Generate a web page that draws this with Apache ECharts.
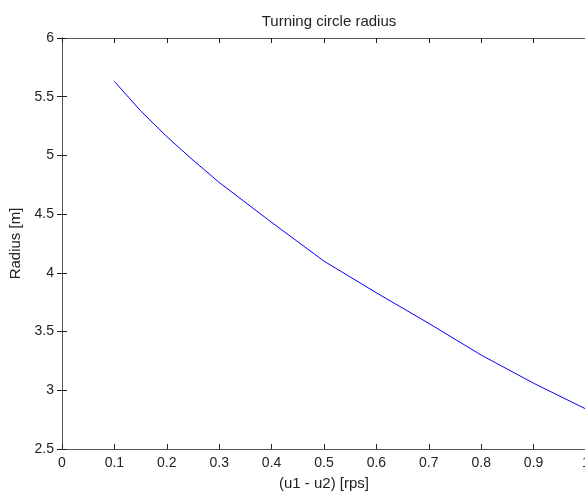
<!DOCTYPE html>
<html>
<head>
<meta charset="utf-8">
<script src="https://cdn.jsdelivr.net/npm/echarts@6/dist/echarts.min.js"></script>
<style>
  html, body { margin: 0; padding: 0; background: #fff; overflow: hidden; }
  #chart { width: 585px; height: 493px; }
</style>
</head>
<body>
<div id="chart"></div>
<script>
// Speed difference between the two propellers [rps]
const speedDiff = [0.1, 0.15, 0.2, 0.25, 0.3, 0.4, 0.5, 0.6, 0.7, 0.8, 0.9, 1.0];
// Resulting turning circle radius [m]
const radius = [5.63, 5.38, 5.16, 4.96, 4.77, 4.43, 4.10, 3.83, 3.57, 3.30, 3.06, 2.84];

const textColor = '#222';
const axisColor = '#555';
const tickColor = '#222';
const fontFamily = 'Liberation Sans, Arial, sans-serif';
const labelSize = 14;
const nameSize = 15;

const chart = echarts.init(document.getElementById('chart'), null, { renderer: 'canvas' });

const line = { show: true, lineStyle: { color: axisColor, width: 1 } };
const tick = { inside: true, length: 5, lineStyle: { color: tickColor, width: 1 } };

chart.setOption({
  animation: false,
  backgroundColor: '#fff',
  title: {
    text: 'Turning circle radius',
    left: 324,
    top: 9,
    textAlign: 'center',
    textStyle: { fontFamily, fontSize: nameSize, fontWeight: 'normal', color: textColor }
  },
  grid: { left: 62, top: 38, width: 524, height: 411, containLabel: false, outerBoundsMode: 'none' },
  xAxis: [
    {
      type: 'value', min: 0, max: 1, interval: 0.1, position: 'bottom',
      name: '(u1 - u2) [rps]', nameLocation: 'middle', nameGap: 27,
      nameTextStyle: { fontFamily, fontSize: nameSize, color: textColor },
      axisLine: line,
      axisTick: tick,
      axisLabel: { fontFamily, fontSize: labelSize, color: textColor, margin: 7,
        formatter: v => String(Math.round(v * 10) / 10) },
      splitLine: { show: false }
    },
    {
      type: 'value', min: 0, max: 1, interval: 0.1, position: 'top',
      axisLine: line,
      axisTick: tick,
      axisLabel: { show: false },
      splitLine: { show: false }
    }
  ],
  yAxis: [
    {
      type: 'value', min: 2.5, max: 6, interval: 0.5, position: 'left',
      name: 'Radius [m]', nameLocation: 'middle', nameGap: 37, nameRotate: 90,
      nameTextStyle: { fontFamily, fontSize: nameSize, color: textColor },
      axisLine: line,
      axisTick: tick,
      axisLabel: { fontFamily, fontSize: labelSize, color: textColor, margin: 8 },
      splitLine: { show: false }
    },
    {
      type: 'value', min: 2.5, max: 6, interval: 0.5, position: 'right',
      axisLine: line,
      axisTick: tick,
      axisLabel: { show: false },
      splitLine: { show: false }
    }
  ],
  series: [
    {
      type: 'line',
      xAxisIndex: 0,
      yAxisIndex: 0,
      data: speedDiff.map((x, i) => [x, radius[i]]),
      showSymbol: false,
      smooth: false,
      lineStyle: { color: '#0000ff', width: 1 },
      itemStyle: { color: '#0000ff' }
    }
  ]
});
</script>
</body>
</html>
